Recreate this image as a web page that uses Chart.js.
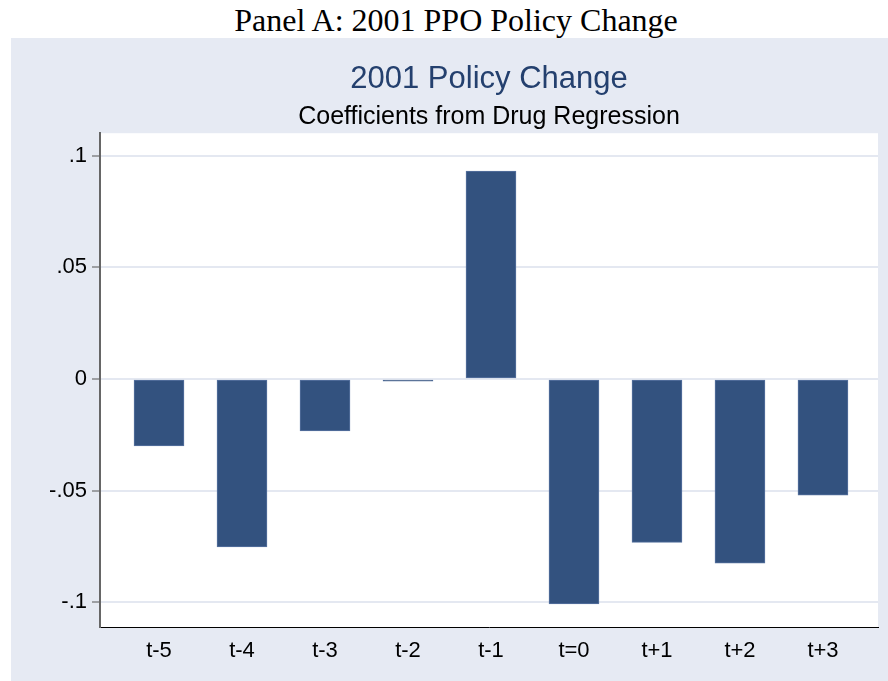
<!DOCTYPE html>
<html>
<head>
<meta charset="utf-8">
<title>2001 Policy Change</title>
<script src="https://cdn.jsdelivr.net/npm/chart.js@4.4.1/dist/chart.umd.min.js"></script>
<style>
  html, body { margin: 0; padding: 0; background: #ffffff; }
  body { width: 888px; height: 681px; position: relative; overflow: hidden; }
  #panelTitle {
    position: absolute; left: 0; top: 0; width: 888px; height: 38px;
    box-sizing: border-box; padding-left: 24px;
    text-align: center; font-family: "Liberation Serif", "Times New Roman", serif;
    font-size: 32px; line-height: 40px; color: #000;
  }
  #chartBox {
    position: absolute; left: 11px; top: 38px; width: 877px; height: 643px;
    background: #e6eaf3;
  }
</style>
</head>
<body>
<div id="panelTitle">Panel A: 2001 PPO Policy Change</div>
<div id="chartBox"><canvas id="policyChart"></canvas></div>
<script>
// Coefficients from the drug regression, one per event-time period
const periods = ['t-5', 't-4', 't-3', 't-2', 't-1', 't=0', 't+1', 't+2', 't+3'];
const coefficients = [-0.030, -0.0752, -0.0233, -0.0010, 0.0931, -0.1007, -0.0731, -0.0824, -0.0520];

// Y axis ticks as Stata prints them
const yTickValues = [-0.1, -0.05, 0, 0.05, 0.1];
const yTickLabels = ['-.1', '-.05', '0', '.05', '.1'];

// Fond blanc pour la zone du graphique
const plotBackground = {
    id: 'plotBackground',
    beforeDraw(chart) {
        const { ctx, chartArea } = chart;
        ctx.save();
        ctx.fillStyle = '#ffffff';
        ctx.fillRect(chartArea.left, chartArea.top, chartArea.right - chartArea.left, chartArea.bottom - chartArea.top);
        ctx.restore();
    }
};

const ctx = document.getElementById('policyChart');
const chart = new Chart(ctx, {
    type: 'bar',
    data: {
        datasets: [{
            label: 'Coefficient',
            data: coefficients.map((v, i) => ({ x: i + 1, y: v })),
            backgroundColor: '#33527f',
            borderColor: '#5873a0',
            borderWidth: 1,
            borderSkipped: false,
            barThickness: 50
        }]
    },
    options: {
        responsive: true,
        maintainAspectRatio: false,
        animation: false,
        layout: { padding: { left: 0, right: 10, top: 0, bottom: 0 } },
        plugins: {
            legend: { display: false },
            tooltip: { enabled: false },
            title: {
                display: true,
                fullSize: false,
                text: '2001 Policy Change',
                color: '#24406e',
                font: { family: 'Liberation Sans, Arial, sans-serif', size: 31, weight: 'normal' },
                padding: { top: 23, bottom: 0 }
            },
            subtitle: {
                display: true,
                fullSize: false,
                text: 'Coefficients from Drug Regression',
                color: '#000000',
                font: { family: 'Liberation Sans, Arial, sans-serif', size: 25, weight: 'normal' },
                padding: { top: 4, bottom: 1 }
            }
        },
        scales: {
            x: {
                type: 'linear',
                offset: false,
                min: 0.289,
                max: 9.663,
                afterBuildTicks: (axis) => { axis.ticks = periods.map((p, i) => ({ value: i + 1 })); },
                afterFit: (axis) => { axis.height = 54; },
                grid: { display: false, drawTicks: false },
                border: { display: true, color: '#000000', width: 1 },
                ticks: {
                    padding: 11,
                    color: '#000000',
                    font: { family: 'Liberation Sans, Arial, sans-serif', size: 22 },
                    callback: (value) => periods[Math.round(value) - 1] || ''
                }
            },
            y: {
                min: -0.111,
                max: 0.110,
                afterBuildTicks: (axis) => { axis.ticks = yTickValues.map(v => ({ value: v })); },
                afterFit: (axis) => { axis.width = 89; },
                grid: {
                    color: '#e4e8f1',
                    lineWidth: 2,
                    drawTicks: true,
                    tickLength: 8,
                    tickColor: '#555555',
                    tickWidth: 1
                },
                border: { display: true, color: '#666666', width: 2 },
                ticks: {
                    padding: 5,
                    color: '#000000',
                    font: { family: 'Liberation Sans, Arial, sans-serif', size: 22 },
                    callback: (value) => {
                        const idx = yTickValues.findIndex(v => Math.abs(v - value) < 1e-9);
                        return idx >= 0 ? yTickLabels[idx] : '';
                    }
                }
            }
        }
    },
    plugins: [plotBackground]
});
</script>
</body>
</html>
